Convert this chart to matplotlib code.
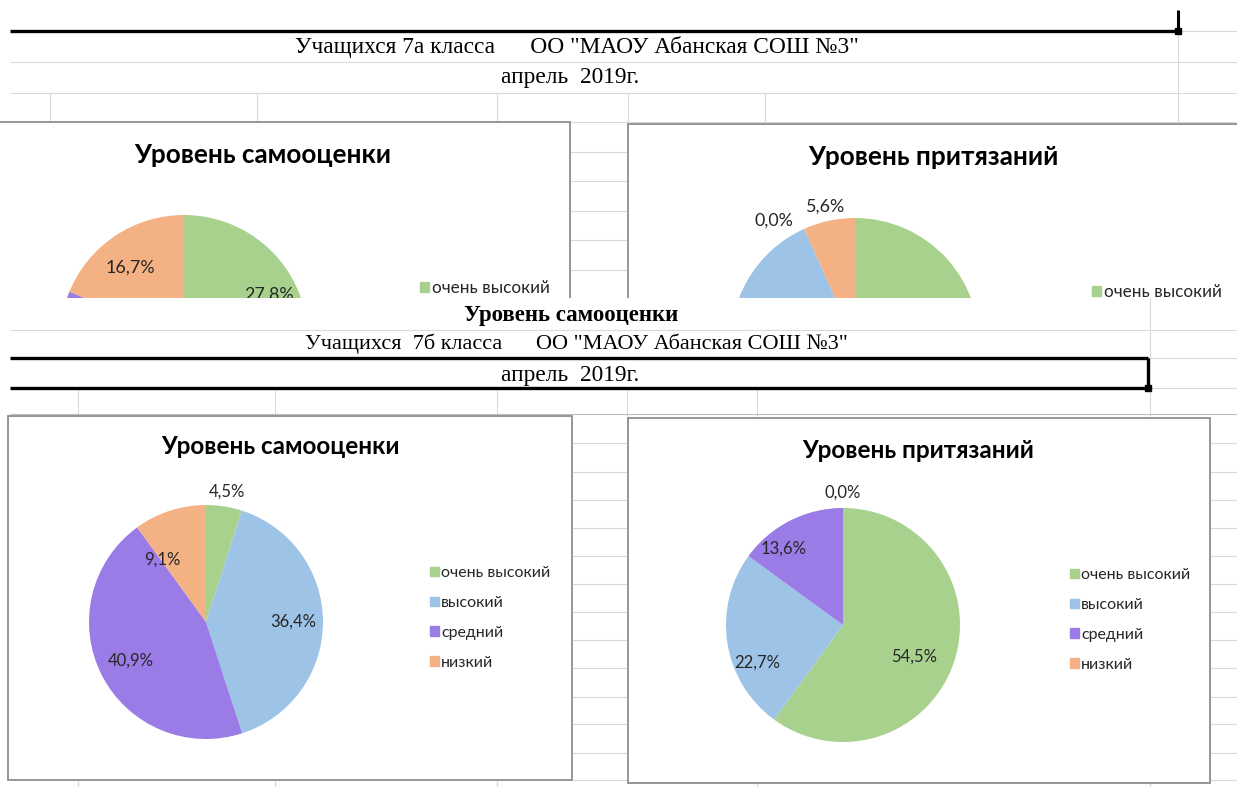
import matplotlib
matplotlib.use("Agg")
import matplotlib.pyplot as plt
import numpy as np

# ---------------- data ----------------
categories = ["очень высокий", "высокий", "средний", "низкий"]
colors = ["#A9D18E", "#9DC3E6", "#9B7BE5", "#F4B183"]

# 7а класс (top charts, lower halves hidden by the sheet)
self_7a = [27.8, 16.7, 27.8, 16.7]
claims_7a = [44.4, 33.3, 0.0, 5.6]
# 7б класс
self_7b = [4.5, 36.4, 40.9, 9.1]
claims_7b = [54.5, 22.7, 13.6, 0.0]

title_self = "Уровень самооценки"
title_claims = "Уровень притязаний"
head_7a = 'Учащихся 7а класса      ОО "МАОУ Абанская СОШ №3"'
head_7b = 'Учащихся  7б класса      ОО "МАОУ Абанская СОШ №3"'
head_date = "апрель  2019г."

# ---------------- layout helpers ----------------
W, H = 1237, 787
CUT = 298  # where the lower sheet part covers the upper charts
fig = plt.figure(figsize=(W / 100, H / 100), dpi=100)
GRID = "#DADADA"
FRAME = "#8E8E8E"
SERIF = ["Liberation Serif", "DejaVu Serif"]
SANS = ["Lato", "DejaVu Sans"]


def rect(x0, y0, x1, y1):
    return [x0 / W, 1 - y1 / H, (x1 - x0) / W, (y1 - y0) / H]


def pix_axes(x0, y0, x1, y1, z, face="none"):
    a = fig.add_axes(rect(x0, y0, x1, y1))
    a.set_xlim(x0, x1)
    a.set_ylim(y1, y0)
    a.set_zorder(z)
    a.axis("off")
    if face != "none":
        a.add_patch(plt.Rectangle((x0, y0), x1 - x0, y1 - y0, color=face, zorder=0))
    return a


def hline(a, y, x0, x1, c=GRID, lw=0.8, z=1):
    a.plot([x0, x1], [y, y], color=c, lw=lw, zorder=z, solid_capstyle="butt")


def vline(a, x, y0, y1, c=GRID, lw=0.8, z=1):
    a.plot([x, x], [y0, y1], color=c, lw=lw, zorder=z, solid_capstyle="butt")


def frame(a, x0, y0, x1, y1):
    a.add_patch(plt.Rectangle((x0, y0), x1 - x0, y1 - y0, facecolor="white",
                              edgecolor=FRAME, lw=1.3, zorder=3))


def pie_chart(box, center, R, values, title, title_xy, leg_xy, dists, nudges, z, s=1.0):
    x0, y0, x1, y1 = box
    a = fig.add_axes(rect(x0, y0, x1, y1))
    a.set_zorder(z)
    a.patch.set_alpha(0)
    cx, cy = center[0], H - center[1]
    wedges, _ = a.pie(values, colors=colors, startangle=90, counterclock=False,
                      center=(cx, cy), radius=R, normalize=True,
                      wedgeprops=dict(linewidth=0))
    a.set_xlim(x0, x1)
    a.set_ylim(H - y1, H - y0)
    a.set_aspect("auto")
    a.axis("off")
    for w, v, d, n in zip(wedges, values, dists, nudges):
        th = np.deg2rad((w.theta1 + w.theta2) / 2 + n)
        a.text(cx + d * R * np.cos(th), cy + d * R * np.sin(th),
               f"{v:.1f}%".replace(".", ","), ha="center", va="center",
               fontsize=12 * s, family=SANS, color="#262626")
    a.text(title_xy[0], H - title_xy[1], title, ha="center", va="center",
           fontsize=17.5 * s, fontweight="bold", family=SANS, color="black")
    handles = [plt.Rectangle((0, 0), 1, 1, color=c) for c in colors]
    leg = a.legend(handles, categories, loc="upper left",
                   bbox_to_anchor=(leg_xy[0], H - leg_xy[1]),
                   bbox_transform=a.transData, frameon=False,
                   handlelength=0.55, handleheight=0.55, handletextpad=0.15,
                   labelspacing=1.0, borderpad=0, borderaxespad=0,
                   prop=dict(family=SANS, size=11.5 * s))
    for t in leg.get_texts():
        t.set_color("#262626")
    return a, leg


def hide_covered(a, leg, renderer):
    """Texts lying completely under the lower sheet part are not visible."""
    limit = H - CUT
    for t in a.texts:
        if t.get_window_extent(renderer).y1 < limit:
            t.set_visible(False)
    for h, t in zip(leg.legend_handles, leg.get_texts()):
        if t.get_window_extent(renderer).y1 < limit:
            t.set_visible(False)
            h.set_visible(False)


# ---------------- upper part (7а) ----------------
top = pix_axes(0, 0, W, H, 0, face="white")
hline(top, 31, 10, 1178, c="black", lw=2.4, z=2)
hline(top, 31, 1178, W)
vline(top, 1178, 10, 29, c="black", lw=2.2, z=2)
top.add_patch(plt.Rectangle((1175, 28), 6, 6, color="black", zorder=2))
for y in (62, 93, 122):
    hline(top, y, 10, W)
for x in (50, 257, 497, 628, 765):
    vline(top, x, 93, 122)
vline(top, 1178, 31, 122)
for y in (152, 181, 211, 240, 270):
    hline(top, y, 570, 628)
top.text(577, 47, head_7a, ha="center", va="center", fontsize=16.8, family=SERIF)
top.text(570, 78, head_date, ha="center", va="center", fontsize=16.8, family=SERIF)
frame(top, -5, 122, 570, 700)
frame(top, 628, 124, 1260, 700)

tl = pie_chart((0, 123, 569, 700), (184, 339), 124, self_7a, title_self, (263, 155),
               (420, 280), [0.77, 0.75, 0.75, 0.72], [-6, 0, 0, 3.5], 1, s=1.075)
tr = pie_chart((629, 125, W, 700), (855, 342), 124, claims_7a, title_claims, (933, 157),
               (1092, 284), [0.75, 0.75, 1.18, 1.12], [0, 0, 9.5, 0], 1, s=1.075)

# ---------------- lower part (7б) ----------------
low = pix_axes(0, CUT, W, H, 5, face="white")
hline(low, 330, 10, W)
hline(low, 358, 10, 1148, c="black", lw=2.4, z=2)
hline(low, 388, 10, 1148, c="black", lw=2.4, z=2)
hline(low, 358, 1148, W)
hline(low, 388, 1148, W)
vline(low, 1148, 358, 388, c="black", lw=2.4, z=2)
low.add_patch(plt.Rectangle((1145, 385), 6, 6, color="black", zorder=2))
vline(low, 1150, CUT, 358)
for x in (78, 275, 497, 627, 757, 1150):
    vline(low, x, 388, 416)
hline(low, 414, 10, W, c="#BDBDBD")
for y in (443, 472, 500, 528, 556, 584, 612, 640, 668, 697, 724, 753, 780):
    hline(low, y, 572, 628)
    hline(low, y, 1210, W)
for x in (78, 275, 497):
    vline(low, x, 780, H)
for x in (757, 1150):
    vline(low, x, 783, H)
low.text(571, 315, title_self, ha="center", va="center", fontsize=16.5,
         fontweight="bold", family=SERIF)
low.text(576, 344, head_7b, ha="center", va="center", fontsize=16, family=SERIF)
low.text(570, 375, head_date, ha="center", va="center", fontsize=16.8, family=SERIF)
frame(low, 8, 416, 572, 780)
frame(low, 628, 418, 1210, 783)

pie_chart((9, 417, 571, 779), (206, 622), 117, self_7b, title_self, (280, 447),
          (430, 566), [1.13, 0.75, 0.72, 0.65], [0, 0, 0, 17], 6)
pie_chart((629, 419, 1209, 782), (843, 625), 117, claims_7b, title_claims, (918, 450),
          (1070, 568), [0.67, 0.8, 0.83, 1.13], [-6, 15, 11, 0], 6)

fig.canvas.draw()
rend = fig.canvas.get_renderer()
for a, leg in (tl, tr):
    hide_covered(a, leg, rend)

fig.savefig("out.png", dpi=100, facecolor="white")
